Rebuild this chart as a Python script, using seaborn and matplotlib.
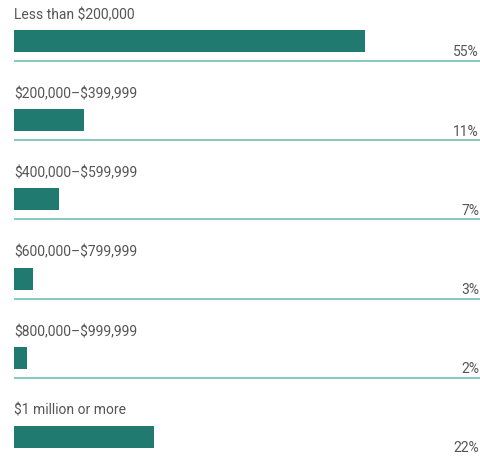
import matplotlib
matplotlib.use("Agg")
import matplotlib.pyplot as plt
import seaborn as sns
import pandas as pd

categories = ["Less than $200,000", "$200,000\u2013$399,999", "$400,000\u2013$599,999",
              "$600,000\u2013$799,999", "$800,000\u2013$999,999", "$1 million or more"]
values = [55, 11, 7, 3, 2, 22]
value_labels = ["55%", "11%", "7%", "3%", "2%", "22%"]

df = pd.DataFrame({"category": categories, "value": values})

sns.set_theme(style="white")
plt.rcParams["font.family"] = ["Roboto", "DejaVu Sans"]

W, H = 480, 459
fig = plt.figure(figsize=(W / 100, H / 100), dpi=100)
ax = fig.add_axes([0, 0, 1, 1])

bar_color = "#217a6f"
line_color = "#86c9bf"
text_color = "#555555"

sns.barplot(data=df, x="value", y="category", orient="h", color=bar_color,
            width=0.28, saturation=1, ax=ax, edgecolor="none")

px_per_unit = 351 / 55
x_left = -14 / px_per_unit
x_right = (W - 14) / px_per_unit
ax.set_xlim(x_left, x_right)

row_px = 79.2
ax.set_ylim((H - 41) / row_px, -41 / row_px)

for i, (cat, lab) in enumerate(zip(categories, value_labels)):
    ax.text(0, i - 26 / row_px, cat, ha="left", va="center", fontsize=10,
            color=text_color, parse_math=False)
    ax.text(x_right - 1 / px_per_unit, i + 11.5 / row_px, lab, ha="right", va="center",
            fontsize=10, color=text_color, parse_math=False)
    if i < len(categories) - 1:
        ax.plot([0, x_right], [i + 20 / row_px] * 2, color=line_color, lw=1.4,
                solid_capstyle="butt")

ax.set_xlabel("")
ax.set_ylabel("")
ax.set_xticks([])
ax.set_yticks([])
for s in ax.spines.values():
    s.set_visible(False)

fig.savefig("out.png", dpi=100, facecolor="white")
